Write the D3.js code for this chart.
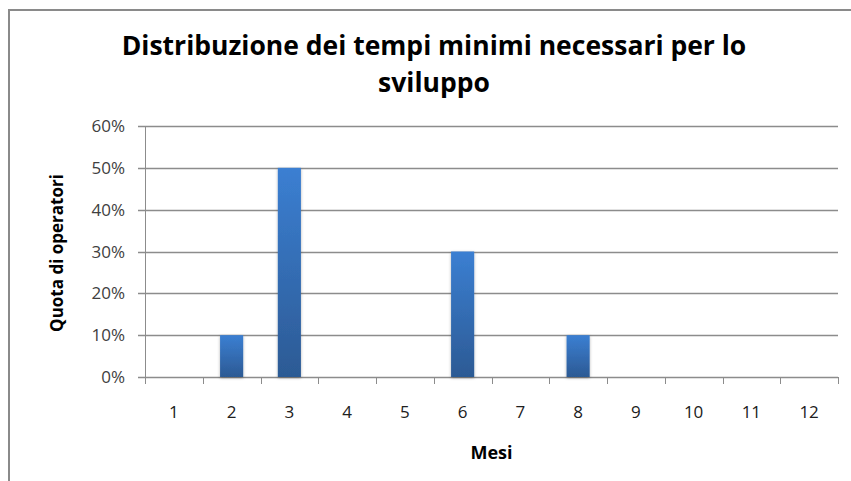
<!DOCTYPE html>
<html>
<head>
<meta charset="utf-8">
<script src="https://cdn.jsdelivr.net/npm/d3@7"></script>
<style>
  body { margin: 0; background: #fff; }
  text { font-family: "Open Sans", "DejaVu Sans", sans-serif; }
</style>
</head>
<body>
<svg width="851" height="481"></svg>
<script>
var months = ["1", "2", "3", "4", "5", "6", "7", "8", "9", "10", "11", "12"];
var shares = [0, 0.10, 0.50, 0, 0, 0.30, 0, 0.10, 0, 0, 0, 0];
var yTicks = [0, 0.1, 0.2, 0.3, 0.4, 0.5, 0.6];

var svg = d3.select("svg");
var pLeft = 145, pRight = 838, pTop = 126, pBottom = 377;

// cornice esterna
svg.append("rect")
  .attr("x", 9).attr("y", 10)
  .attr("width", 860).attr("height", 500)
  .attr("fill", "none")
  .attr("stroke", "#8a8a8a")
  .attr("stroke-width", 2);

var x = d3.scaleBand().domain(months).range([pLeft, pRight]).paddingInner(0.6).paddingOuter(0.3);
var xPos = d3.scalePoint().domain(months).range([pLeft, pRight]).padding(0.5);
var y = d3.scaleLinear().domain([0, 0.6]).range([pBottom, pTop]);

var defs = svg.append("defs");
var grad = defs.append("linearGradient").attr("id", "bar").attr("x1", 0).attr("y1", 0).attr("x2", 0).attr("y2", 1);
grad.append("stop").attr("offset", "0%").attr("stop-color", "#3b7fd2");
grad.append("stop").attr("offset", "100%").attr("stop-color", "#2c5a94");
var shadow = defs.append("filter").attr("id", "sh").attr("x", "-30%").attr("y", "-10%").attr("width", "160%").attr("height", "120%");
shadow.append("feDropShadow").attr("dx", 0).attr("dy", 1).attr("stdDeviation", 1.5).attr("flood-color", "#000").attr("flood-opacity", 0.3);

// griglia
svg.append("g")
  .selectAll("line")
  .data(yTicks)
  .enter().append("line")
  .attr("x1", pLeft - 7).attr("x2", pRight)
  .attr("y1", function(d) { return Math.round(y(d)) + 0.5; })
  .attr("y2", function(d) { return Math.round(y(d)) + 0.5; })
  .attr("stroke", "#8c8c8c")
  .attr("stroke-width", 1.3);

// etichette asse y
svg.append("g")
  .selectAll("text")
  .data(yTicks)
  .enter().append("text")
  .attr("x", pLeft - 20)
  .attr("y", function(d) { return y(d) + 6; })
  .attr("text-anchor", "end")
  .attr("font-size", 17)
  .attr("fill", "#404040")
  .text(d3.format(".0%"));

// asse verticale
svg.append("line")
  .attr("x1", pLeft + 0.5).attr("x2", pLeft + 0.5)
  .attr("y1", pTop).attr("y2", pBottom + 7)
  .attr("stroke", "#8c8c8c");

// tacche asse x
var step = (pRight - pLeft) / months.length;
svg.append("g")
  .selectAll("line")
  .data(d3.range(months.length + 1))
  .enter().append("line")
  .attr("x1", function(i) { return Math.round(pLeft + i * step) + 0.5; })
  .attr("x2", function(i) { return Math.round(pLeft + i * step) + 0.5; })
  .attr("y1", pBottom).attr("y2", pBottom + 7)
  .attr("stroke", "#8c8c8c");

// barre
svg.append("g")
  .selectAll("rect")
  .data(months.map(function(m, i) { return { m: m, v: shares[i] }; }).filter(function(d) { return d.v > 0; }))
  .enter().append("rect")
  .attr("x", function(d) { return x(d.m); })
  .attr("y", function(d) { return y(d.v); })
  .attr("width", x.bandwidth())
  .attr("height", function(d) { return pBottom - y(d.v); })
  .attr("fill", "url(#bar)")
  .attr("filter", "url(#sh)");

// etichette asse x
svg.append("g")
  .selectAll("text")
  .data(months)
  .enter().append("text")
  .attr("x", function(d) { return xPos(d); })
  .attr("y", 418)
  .attr("text-anchor", "middle")
  .attr("font-size", 17)
  .attr("fill", "#202020")
  .text(function(d) { return d; });

svg.append("text")
  .attr("x", (pLeft + pRight) / 2)
  .attr("y", 459)
  .attr("text-anchor", "middle")
  .attr("font-size", 18)
  .attr("font-weight", "bold")
  .text("Mesi");

svg.append("text")
  .attr("transform", "translate(63,253) rotate(-90)")
  .attr("text-anchor", "middle")
  .attr("font-size", 17)
  .attr("font-weight", "bold")
  .text("Quota di operatori");

// titolo
var title = svg.append("text")
  .attr("text-anchor", "middle")
  .attr("font-size", 26.5)
  .attr("font-weight", "bold");
title.append("tspan").attr("x", 434).attr("y", 55).text("Distribuzione dei tempi minimi necessari per lo");
title.append("tspan").attr("x", 434).attr("y", 92).text("sviluppo");
</script>
</body>
</html>
